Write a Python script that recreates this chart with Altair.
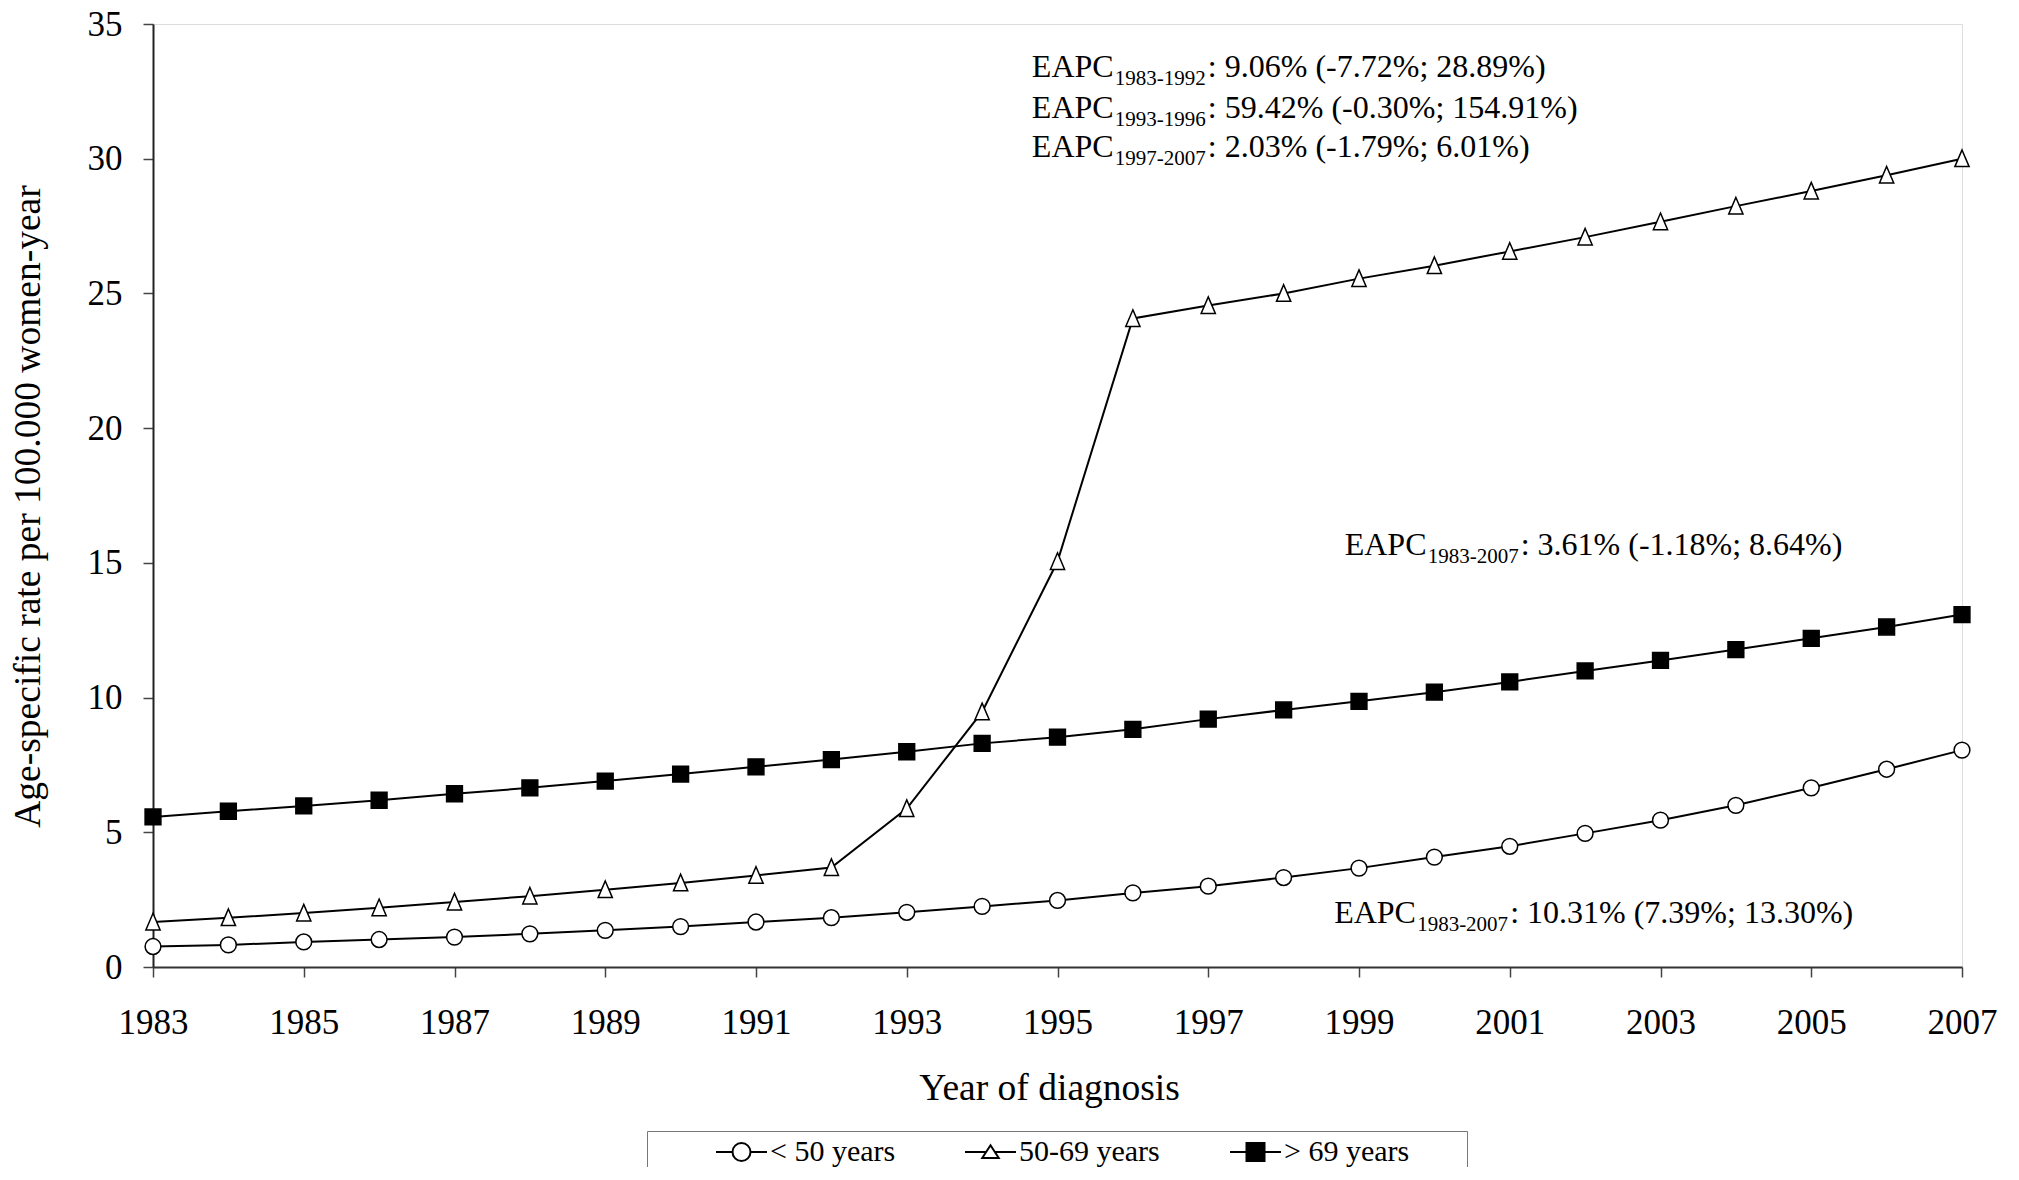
import altair as alt
import pandas as pd

# ---- data ----
years = list(range(1983, 2008))
series_names = ["< 50 years", "50-69 years", "> 69 years"]
rate_under50 = [0.76, 0.82, 0.93, 1.02, 1.11, 1.23, 1.36, 1.50, 1.67, 1.83, 2.03, 2.25, 2.47,
                2.75, 3.00, 3.32, 3.67, 4.08, 4.48, 4.96, 5.45, 6.00, 6.65, 7.34, 8.05]
rate_50_69 = [1.67, 1.83, 2.00, 2.20, 2.41, 2.63, 2.87, 3.12, 3.40, 3.69, 5.88, 9.47, 15.05,
              24.07, 24.55, 25.00, 25.55, 26.03, 26.56, 27.09, 27.66, 28.24, 28.80, 29.39, 30.00]
rate_over69 = [5.57, 5.78, 5.98, 6.19, 6.43, 6.65, 6.90, 7.16, 7.43, 7.70, 7.99, 8.30, 8.53,
               8.82, 9.20, 9.54, 9.86, 10.20, 10.58, 10.99, 11.38, 11.78, 12.20, 12.62, 13.08]

x_ticks = list(range(1983, 2008, 2))
y_ticks = [0, 5, 10, 15, 20, 25, 30, 35]

# annotations: anchor (year, rate), main text, subscript, remainder
ann_x = [1994.66, 1994.66, 1994.66, 1998.81, 1998.67]
ann_y = [33.05, 31.50, 30.05, 15.29, 1.63]
ann_main = ["EAPC"] * 5
ann_sub = ["1983-1992", "1993-1996", "1997-2007", "1983-2007", "1983-2007"]
ann_rest = [": 9.06% (-7.72%; 28.89%)", ": 59.42% (-0.30%; 154.91%)",
            ": 2.03% (-1.79%; 6.01%)", ": 3.61% (-1.18%; 8.64%)",
            ": 10.31% (7.39%; 13.30%)"]

FONT = "Liberation Serif"

rows = []
for name, vals in zip(series_names, [rate_under50, rate_50_69, rate_over69]):
    for yr, v in zip(years, vals):
        rows.append({"year": yr, "rate": v, "series": name})
df = pd.DataFrame(rows)
ann = pd.DataFrame({"x": ann_x, "y": ann_y, "main": ann_main, "sub": ann_sub, "rest": ann_rest})

W, H = 1809, 943

x_enc = alt.X("year:Q", scale=alt.Scale(domain=[1983, 2007], nice=False, zero=False),
              axis=alt.Axis(values=x_ticks, format="d", title="Year of diagnosis",
                            titleX=896, titleY=132, titleBaseline="alphabetic",
                            titleAlign="center",
                            titleFontSize=37.5, titleFont=FONT, titleFontWeight="normal",
                            titleColor="black",
                            labelFontSize=35, labelFont=FONT, labelColor="black",
                            labelPadding=28, labelFlush=False, labelOverlap=False,
                            tickSize=10, tickColor="#444", tickWidth=1.5,
                            domainColor="#333", domainWidth=2, grid=False))
y_enc = alt.Y("rate:Q", scale=alt.Scale(domain=[0, 35], nice=False),
              axis=alt.Axis(values=y_ticks, title="Age-specific rate per 100.000 women-year",
                            titleX=-114, titleY=482, titleAngle=270, titleAlign="center",
                            titleBaseline="alphabetic",
                            titleFontSize=37.5, titleFont=FONT, titleFontWeight="normal",
                            titleColor="black",
                            labelFontSize=35, labelFont=FONT, labelColor="black",
                            labelPadding=21, tickSize=10, tickColor="#444", tickWidth=1.5,
                            domainColor="#222", domainWidth=2, grid=False))

base = alt.Chart(df).encode(x=x_enc, y=y_enc)

lines = base.mark_line(color="black", strokeWidth=2).encode(
    detail="series:N", order="year:Q")

tri_path = "M0,-1.1L0.9,1L-0.9,1Z"
points = base.mark_point(filled=True, stroke="black", strokeWidth=1.5, opacity=1, size=250).encode(
    shape=alt.Shape("series:N", scale=alt.Scale(domain=series_names,
                                                range=["circle", tri_path, "square"]),
                    legend=None),
    fill=alt.Fill("series:N", scale=alt.Scale(domain=series_names,
                                              range=["white", "white", "black"]),
                  legend=None),
)

# legend symbols: line segment + marker, as in the reference (unit = 15 px)
leg_circle = "M-2.4,0H-1.3M-0.1,0H1M-0.1,0A0.6,0.6,0,1,1,-1.3,0A0.6,0.6,0,1,1,-0.1,0Z"
leg_tri = "M-2.4,0H-0.99M-0.41,0H1M-0.7,-0.45L-0.15,0.4L-1.25,0.4Z"
leg_sq = "M-2.4,0H-1.3M-0.1,0H1M-1.3,-0.6H-0.1V0.6H-1.3Z"
nbsp = "\u00a0"
zwsp = "\u200b"
legend = alt.Legend(title=zwsp, titleOrient="left", titlePadding=84, titleFontSize=30,
                    titleFont=FONT, orient="none", legendX=494, legendY=1107,
                    direction="horizontal", columnPadding=13, padding=5,
                    strokeColor="#777", fillColor="white",
                    labelFont=FONT, labelFontSize=30, labelColor="black", labelOffset=2,
                    labelExpr="datum.label + '" + nbsp * 7 + zwsp + "'",
                    labelLimit=500,
                    symbolSize=900, symbolStrokeColor="black", symbolStrokeWidth=2,
                    symbolOpacity=1)
legend_layer = base.mark_point(filled=True, strokeWidth=2, opacity=1).encode(
    shape=alt.Shape("series:N", scale=alt.Scale(domain=series_names,
                                                range=[leg_circle, leg_tri, leg_sq]),
                    legend=legend),
    fill=alt.Fill("series:N", scale=alt.Scale(domain=series_names,
                                              range=["white", "white", "black"]),
                  legend=legend),
    stroke=alt.Stroke("series:N", scale=alt.Scale(domain=series_names,
                                                  range=["black", "black", "black"]),
                      legend=legend),
).transform_filter("false")

ann_base = alt.Chart(ann).encode(x=alt.X("x:Q"), y=alt.Y("y:Q"))
t_main = ann_base.mark_text(align="left", baseline="alphabetic", font=FONT, fontSize=32,
                            color="black").encode(text="main:N")
t_sub = ann_base.mark_text(align="left", baseline="alphabetic", font=FONT, fontSize=21,
                           color="black", dx=83, dy=8).encode(text="sub:N")
t_rest = ann_base.mark_text(align="left", baseline="alphabetic", font=FONT, fontSize=32,
                            color="black", dx=176).encode(text="rest:N")

chart = alt.layer(lines, points, legend_layer, t_main, t_sub, t_rest).resolve_scale(
    shape="independent", fill="independent", stroke="independent"
).properties(
    width=W, height=H,
    autosize=alt.AutoSizeParams(type="none"),
    padding={"left": 145, "top": 16, "right": 40, "bottom": 200},
).configure_view(stroke="#999", strokeWidth=2).configure(background="white")

chart.save("out.html", embed_options={"renderer": "svg", "actions": False})
